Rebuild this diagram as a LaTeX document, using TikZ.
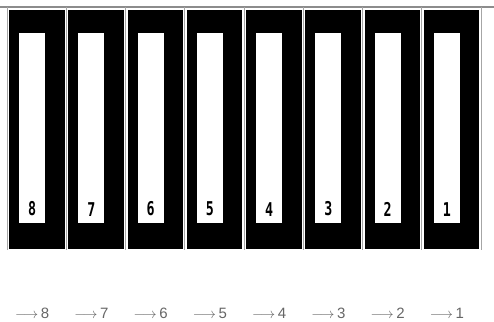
\documentclass[tikz,border=0pt]{standalone}
\usepackage{fontspec}
\setmainfont{Liberation Sans}
\newfontfamily\segfont{DejaVu Sans Mono}
\usetikzlibrary{calc,positioning}

\tikzset{
  slab/.style={fill=black,minimum width=55.5pt,minimum height=239pt,inner sep=0pt,anchor=north west},
  slot/.style={fill=white,minimum width=26pt,minimum height=190pt,inner sep=0pt},
  slotnum/.style={font=\segfont\bfseries\fontsize{19}{19}\selectfont,xscale=0.7,inner sep=0pt},
  outlab/.style={text=black!60,font=\fontsize{15}{15}\selectfont,inner sep=0pt},
}

\begin{document}
\begin{tikzpicture}[x=1pt,y=-1pt]
  \useasboundingbox (0,0) rectangle (494,321);
  \draw[black!45,line width=1.2pt] (0,7) -- (494,7);
  % thin separators between the slabs
  \foreach \k in {0,...,8}{\draw[black!35,line width=0.8pt] ({7+59.25*\k},7) -- ({7+59.25*\k},250);}
  \foreach \k/\lab in {0/8,1/7,2/6,3/5,4/4,5/3,6/2,7/1}{
    \node[slab] (b\lab) at ({9+59.25*\k},10) {};
    \node[slot,below right=23pt and 10pt of b\lab.north west] (w\lab) {};
    \node[slotnum,above=7pt of w\lab.south] (d\lab) {\lab};
    \node[outlab] (l\lab) at (w\lab.south |- 0,313) {$\longrightarrow$\,\lab};
  }
\end{tikzpicture}
\end{document}
